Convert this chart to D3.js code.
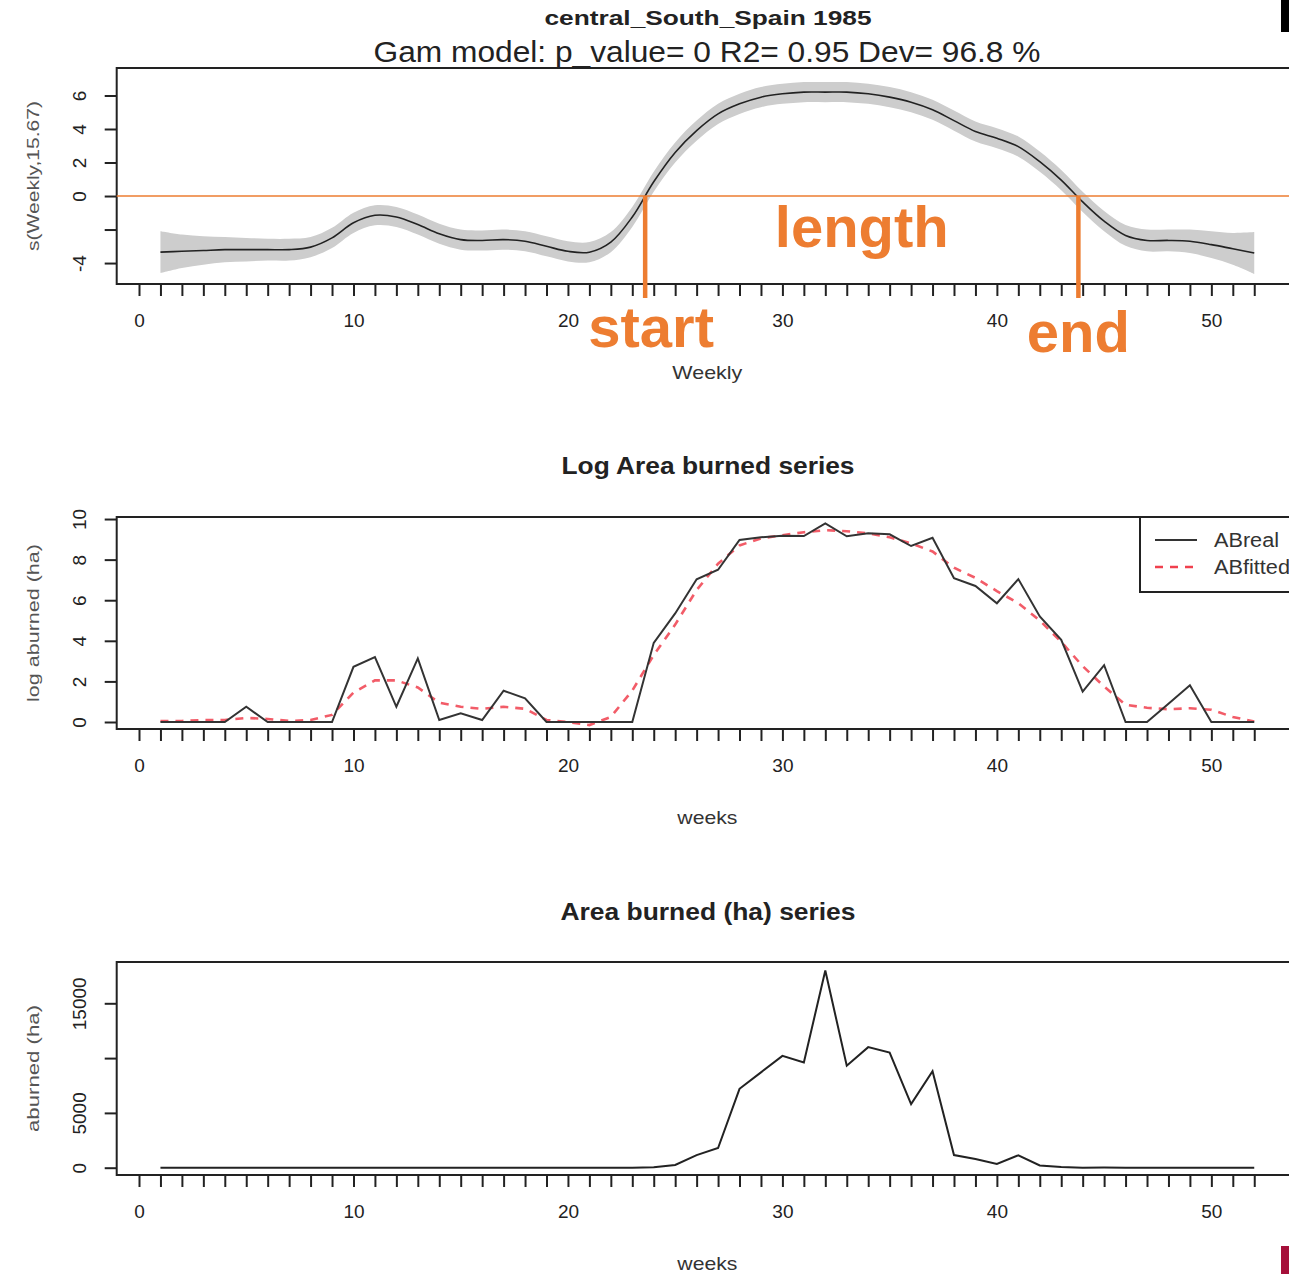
<!DOCTYPE html>
<html lang="en">
<head>
<meta charset="UTF-8">
<title>central_South_Spain 1985</title>
<script src="https://d3js.org/d3.v7.min.js"></script>
<style>
  body { margin: 0; background: #fff; }
  text { font-family: "Liberation Sans", Arial, sans-serif; }
</style>
</head>
<body>
<svg width="1289" height="1274"></svg>
<script>
// weeks of the year
const weeks = [1,2,3,4,5,6,7,8,9,10,11,12,13,14,15,16,17,18,19,20,21,22,23,24,25,26,
               27,28,29,30,31,32,33,34,35,36,37,38,39,40,41,42,43,44,45,46,47,48,49,50,51,52];

// GAM smooth s(Weekly,15.67) and its band half-width
const gamFit = [-3.35,-3.3,-3.25,-3.2,-3.2,-3.2,-3.2,-3.05,-2.5,-1.6,-1.15,-1.25,-1.7,-2.25,-2.6,-2.65,
                -2.6,-2.7,-3.0,-3.3,-3.35,-2.75,-1.25,0.85,2.6,3.9,4.9,5.5,5.9,6.1,6.2,6.2,6.2,6.1,5.9,
                5.6,5.15,4.5,3.85,3.45,2.95,2.05,0.95,-0.35,-1.5,-2.35,-2.65,-2.65,-2.7,-2.9,-3.15,-3.4];
const gamSe = [1.25,1.0,0.85,0.75,0.7,0.65,0.65,0.6,0.6,0.6,0.6,0.6,0.6,0.6,0.6,0.6,0.6,0.6,0.6,0.6,
               0.6,0.6,0.6,0.6,0.6,0.6,0.6,0.6,0.6,0.6,0.6,0.6,0.6,0.6,0.6,0.6,0.6,0.6,0.6,0.6,
               0.6,0.6,0.6,0.6,0.6,0.62,0.65,0.65,0.7,0.8,0.95,1.25];

// season markers (weeks where the smooth crosses 0)
const seasonStart = 23.6;
const seasonEnd = 43.8;

// log area burned, real and fitted
const abReal = [0,0,0,0,0.75,0,0,0,0,2.72,3.2,0.75,3.13,0.1,0.43,0.1,1.54,1.17,0,0,0,0,0,3.9,5.35,7.03,
                7.5,8.97,9.1,9.18,9.16,9.79,9.15,9.3,9.25,8.67,9.08,7.08,6.7,5.85,7.04,5.2,4.05,1.5,2.8,
                0,0,0.9,1.81,0,0,0];
const abFitted = [0.05,0.05,0.1,0.1,0.2,0.15,0.05,0.1,0.35,1.45,2.05,2.05,1.7,0.95,0.75,0.65,0.75,0.65,
                  0.1,0,-0.15,0.25,1.55,3.3,4.8,6.5,7.8,8.7,9.05,9.2,9.35,9.45,9.4,9.3,9.1,8.8,8.4,7.6,
                  7.1,6.45,5.85,5.0,3.95,2.75,1.75,0.85,0.7,0.63,0.68,0.6,0.25,0.02];

// area burned (ha)
const areaBurned = [0,0,0,0,0,0,0,0,0,0,0,0,0,0,0,0,0,0,0,0,0,0,0,45,250,1150,1800,7200,8700,10200,
                    9600,18000,9300,11000,10500,5800,8800,1150,800,340,1130,200,55,4,15,0,0,1,5,0,0,0];

// tick values and labels
const xTicks = [0,1,2,3,4,5,6,7,8,9,10,11,12,13,14,15,16,17,18,19,20,21,22,23,24,25,26,
                27,28,29,30,31,32,33,34,35,36,37,38,39,40,41,42,43,44,45,46,47,48,49,50,51,52];
const xTickLabels = [0,10,20,30,40,50];
const gamTicks = [-4,-2,0,2,4,6];
const gamTickLabels = ["-4","","0","2","4","6"];
const logTicks = [0,2,4,6,8,10];
const logTickLabels = ["0","2","4","6","8","10"];
const areaTicks = [0,5000,10000,15000];
const areaTickLabels = ["0","5000","","15000"];

const orange = "#ED7D31";
const svg = d3.select("svg");
svg.append("rect").attr("width", 1289).attr("height", 1274).attr("fill", "#fff");

const left = 116.7, right = 1298;
const x = d3.scaleLinear().domain([-1.04, 54.04]).range([left, right]);

const yGam = d3.scaleLinear().domain([-5.25, 7.64]).range([284, 68]);
const yLog = d3.scaleLinear().domain([-0.345, 10.1]).range([729, 517]);
const yArea = d3.scaleLinear().domain([-666, 18768]).range([1175, 962]);

// box, axes and titles of one panel
function frame(y, ticks, labels, xTitle, xTitleLen, yTitle, yTitleLen) {
    const [bottom, top] = y.range();
    const g = svg.append("g");

    g.append("rect")
        .attr("x", left).attr("y", top)
        .attr("width", right - left).attr("height", bottom - top)
        .attr("fill", "none").attr("stroke", "#222").attr("stroke-width", 2);

    const xa = g.append("g")
        .attr("transform", "translate(0," + bottom + ")")
        .call(d3.axisBottom(x).tickValues(xTicks).tickSize(12)
            .tickFormat(d => xTickLabels.includes(d) ? d : ""));
    xa.select(".domain").remove();
    xa.selectAll("line").attr("stroke", "#222").attr("stroke-width", 2);
    xa.selectAll("text").attr("y", 30).attr("font-size", 19).attr("fill", "#222")
        .attr("font-family", "Liberation Sans, Arial, sans-serif");

    const ya = g.append("g")
        .attr("transform", "translate(" + left + ",0)")
        .call(d3.axisLeft(y).tickValues(ticks).tickSize(12)
            .tickFormat((d, i) => labels[i]));
    ya.select(".domain").remove();
    ya.selectAll("line").attr("stroke", "#222").attr("stroke-width", 2);
    ya.selectAll("text")
        .attr("x", 0).attr("y", -31).attr("dy", 0)
        .attr("text-anchor", "middle")
        .attr("transform", "rotate(-90)")
        .attr("font-size", 19).attr("fill", "#222")
        .attr("font-family", "Liberation Sans, Arial, sans-serif");

    g.append("text")
        .attr("x", (left + right) / 2).attr("y", bottom + 95)
        .attr("text-anchor", "middle").attr("font-size", 19).attr("fill", "#333")
        .attr("textLength", xTitleLen).attr("lengthAdjust", "spacingAndGlyphs")
        .text(xTitle);

    g.append("text")
        .attr("transform", "translate(39," + (top + bottom) / 2 + ") rotate(-90)")
        .attr("text-anchor", "middle").attr("font-size", 17).attr("fill", "#555")
        .attr("textLength", yTitleLen).attr("lengthAdjust", "spacingAndGlyphs")
        .text(yTitle);
}

// ---------- panel 1: GAM smooth ----------
const curve = d3.curveCatmullRom.alpha(0.5);
const band = d3.area()
    .x((d, i) => x(weeks[i]))
    .y0((d, i) => yGam(d - gamSe[i]))
    .y1((d, i) => yGam(d + gamSe[i]))
    .curve(curve);
svg.append("path").datum(gamFit).attr("d", band).attr("fill", "#cdcdcd");

svg.append("path").datum(gamFit)
    .attr("d", d3.line().x((d, i) => x(weeks[i])).y(d => yGam(d)).curve(curve))
    .attr("fill", "none").attr("stroke", "#222").attr("stroke-width", 1.6);

frame(yGam, gamTicks, gamTickLabels, "Weekly", 70, "s(Weekly,15.67)", 150);

svg.append("text").attr("x", 708).attr("y", 25).attr("text-anchor", "middle")
    .attr("font-size", 21).attr("font-weight", "bold").attr("fill", "#222")
    .attr("textLength", 327).attr("lengthAdjust", "spacingAndGlyphs")
    .text("central_South_Spain 1985");
svg.append("text").attr("x", 707).attr("y", 62).attr("text-anchor", "middle")
    .attr("font-size", 29).attr("fill", "#222")
    .attr("textLength", 667).attr("lengthAdjust", "spacingAndGlyphs")
    .text("Gam model: p_value= 0 R2= 0.95 Dev= 96.8 %");

// annotations
svg.append("line")
    .attr("x1", left).attr("x2", 1289).attr("y1", yGam(0)).attr("y2", yGam(0))
    .attr("stroke", orange).attr("stroke-width", 1.5);
[seasonStart, seasonEnd].forEach(w => {
    svg.append("line")
        .attr("x1", x(w)).attr("x2", x(w))
        .attr("y1", yGam(0)).attr("y2", yGam.range()[0] + 14)
        .attr("stroke", orange).attr("stroke-width", 4.5);
});
const annot = svg.append("g")
    .attr("font-family", "Lato, 'Open Sans', sans-serif").attr("font-weight", "bold")
    .attr("font-size", 58).attr("fill", orange).attr("text-anchor", "middle");
annot.append("text").attr("x", x(seasonStart) + 6).attr("y", 347).text("start");
annot.append("text").attr("x", (x(seasonStart) + x(seasonEnd)) / 2).attr("y", 247).text("length");
annot.append("text").attr("x", x(seasonEnd)).attr("y", 352).text("end");

// ---------- panel 2: log area burned ----------
svg.append("text").attr("x", 708).attr("y", 474).attr("text-anchor", "middle")
    .attr("font-size", 23).attr("font-weight", "bold").attr("fill", "#222")
    .attr("textLength", 293).attr("lengthAdjust", "spacingAndGlyphs")
    .text("Log Area burned series");

svg.append("path").datum(abFitted)
    .attr("d", d3.line().x((d, i) => x(weeks[i])).y(d => yLog(d)))
    .attr("fill", "none").attr("stroke", "#f0404e").attr("stroke-width", 2.6)
    .attr("stroke-dasharray", "8,7").attr("opacity", 0.85);
svg.append("path").datum(abReal)
    .attr("d", d3.line().x((d, i) => x(weeks[i])).y(d => yLog(d)))
    .attr("fill", "none").attr("stroke", "#333").attr("stroke-width", 2);

frame(yLog, logTicks, logTickLabels, "weeks", 60, "log aburned (ha)", 158);

const legend = svg.append("g");
legend.append("rect").attr("x", 1140).attr("y", 517).attr("width", 200).attr("height", 75)
    .attr("fill", "#fff").attr("stroke", "#222").attr("stroke-width", 2);
legend.append("line").attr("x1", 1155).attr("x2", 1197).attr("y1", 540).attr("y2", 540)
    .attr("stroke", "#333").attr("stroke-width", 2);
legend.append("line").attr("x1", 1155).attr("x2", 1197).attr("y1", 567).attr("y2", 567)
    .attr("stroke", "#f0404e").attr("stroke-width", 2.6).attr("stroke-dasharray", "8,7");
legend.append("text").attr("x", 1214).attr("y", 547).attr("font-size", 20).attr("fill", "#333")
    .attr("textLength", 65).attr("lengthAdjust", "spacingAndGlyphs")
    .text("ABreal");
legend.append("text").attr("x", 1214).attr("y", 574).attr("font-size", 20).attr("fill", "#333")
    .attr("textLength", 76).attr("lengthAdjust", "spacingAndGlyphs")
    .text("ABfitted");

// ---------- panel 3: area burned ----------
svg.append("text").attr("x", 708).attr("y", 920).attr("text-anchor", "middle")
    .attr("font-size", 23).attr("font-weight", "bold").attr("fill", "#222")
    .attr("textLength", 295).attr("lengthAdjust", "spacingAndGlyphs")
    .text("Area burned (ha) series");

svg.append("path").datum(areaBurned)
    .attr("d", d3.line().x((d, i) => x(weeks[i])).y(d => yArea(d)))
    .attr("fill", "none").attr("stroke", "#222").attr("stroke-width", 2);

frame(yArea, areaTicks, areaTickLabels, "weeks", 60, "aburned (ha)", 127);

// slide edge marks
svg.append("rect").attr("x", 1281).attr("y", 0).attr("width", 8).attr("height", 32).attr("fill", "#000");
svg.append("rect").attr("x", 1281).attr("y", 1246).attr("width", 8).attr("height", 28).attr("fill", "#a50f3a");
</script>
</body>
</html>
